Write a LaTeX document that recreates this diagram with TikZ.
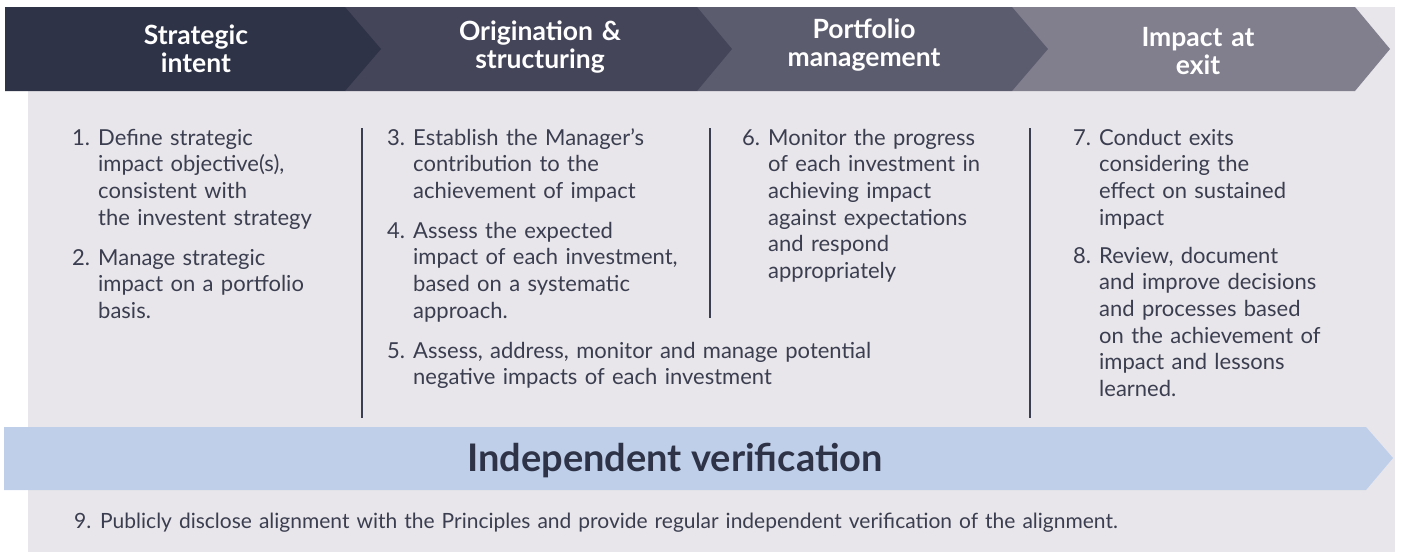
\documentclass[tikz,border=0pt]{standalone}
\usepackage{fontspec}
\setmainfont{Lato}
\usetikzlibrary{positioning}
\definecolor{navy}{HTML}{2E3347}
\definecolor{slate}{HTML}{444559}
\definecolor{dusk}{HTML}{5C5C6F}
\definecolor{mist}{HTML}{817F8E}
\definecolor{panel}{HTML}{E8E6EA}
\definecolor{band}{HTML}{BFCFE9}
\definecolor{ink}{HTML}{3B3E50}
\tikzset{
	head/.style={text=white, font=\fontsize{26.5}{28.5}\bfseries\selectfont, text width=240pt, align=center, anchor=base, inner sep=0},
	num/.style={text=ink, font=\fontsize{22}{26.7}\selectfont, anchor=base west, inner sep=0},
	itm/.style={num, text width=1100pt, align=left},
	divider/.style={draw=ink, line width=1.2pt},
}
\begin{document}
\begin{tikzpicture}[x=1pt, y=-1pt]
\useasboundingbox (0,0) rectangle (1403,552);
\fill[panel] (28,7) rectangle (1395,552);
% phases, drawn right to left so each tip lies over the next one
\foreach \l/\c/\t/\col in {1012/1355/1390/mist, 697/1012/1048/dusk, 345/697/732/slate, 5/345/381/navy}
	\fill[\col] (\l,7) -- (\c,7) -- (\t,49) -- (\c,91) -- (\l,91) -- cycle;
\foreach \v/\x/\y/\txt in {strat/196/44/{Strategic\\intent}, orig/540/40/{Origination \&\\structuring}, port/864/38/{Portfolio\\management}, exit/1198/46/{Impact at\\exit}}
	\node[head] (\v) at (\x,\y) {\txt};
% principles
\foreach \n/\x/\y/\txt in {
	1/72/145/{Define strategic\\impact objective(s),\\consistent with\\the investent strategy},
	2/72/265/{Manage strategic\\impact on a portfolio\\basis.},
	3/387/145/{Establish the Manager's\\contribution to the\\achievement of impact},
	4/387/238/{Assess the expected\\impact of each investment,\\based on a systematic\\approach.},
	5/387/358/{Assess, address, monitor and manage potential\\negative impacts of each investment},
	6/742/145/{Monitor the progress\\of each investment in\\achieving impact\\against expectations\\and respond\\appropriately},
	7/1073/145/{Conduct exits\\considering the\\effect on sustained\\impact},
	8/1073/263/{Review, document\\and improve decisions\\and processes based\\on the achievement of\\impact and lessons\\learned.}} {
	\node[num] (n\n) at (\x,\y) {\n.};
	\node[itm, right=26pt of n\n.base west, anchor=base west] (p\n) {\txt};
}
\draw[divider] (362,128) -- (362,418);
\draw[divider] (710,128) -- (710,318);
\draw[divider] (1030,128) -- (1030,418);
% verification band
\fill[band] (4,427) -- (1366,427) -- (1393,458) -- (1366,490) -- (4,490) -- cycle;
\node[text=navy, font=\fontsize{38}{40}\bfseries\selectfont, anchor=base, inner sep=0] (verif) at (675,471) {Independent verification};
\node[num, font=\fontsize{21}{26}\selectfont] (n9) at (74,528) {9.};
\node[itm, font=\fontsize{21}{26}\selectfont, right=26pt of n9.base west, anchor=base west] (p9) {Publicly disclose alignment with the Principles and provide regular independent verification of the alignment.};
\end{tikzpicture}
\end{document}
